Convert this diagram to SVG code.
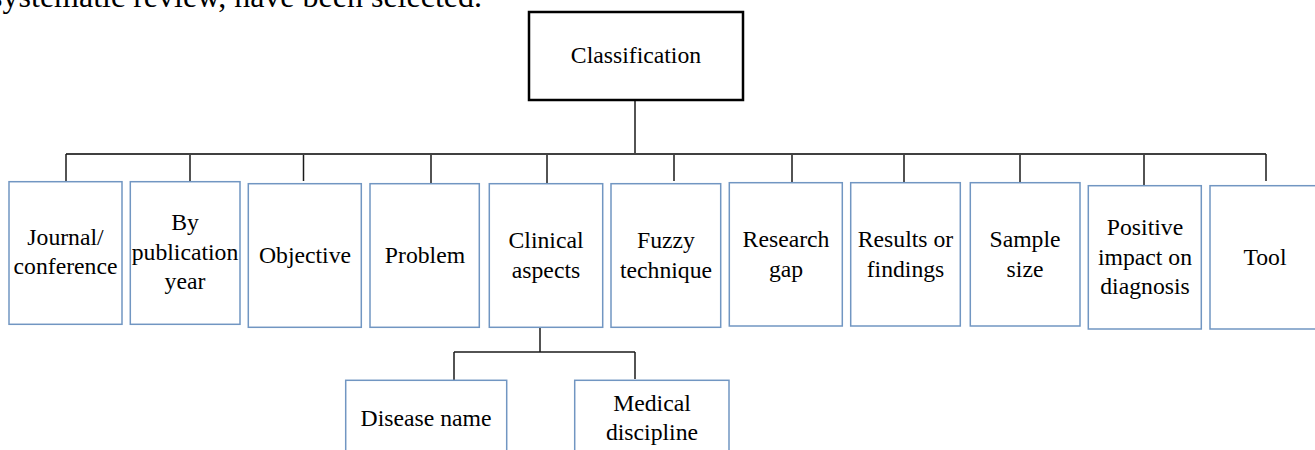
<svg xmlns="http://www.w3.org/2000/svg" width="1315" height="450" viewBox="0 0 1315 450">
<style>
.box{fill:#fff;stroke:#7196C2;stroke-width:1.5}
.root{fill:#fff;stroke:#000;stroke-width:2.5}
.t{font-family:"Liberation Serif","Times New Roman",serif;font-size:23.7px;fill:#000;text-anchor:middle}
.top{font-family:"Liberation Serif","Times New Roman",serif;font-size:32px;fill:#000;text-anchor:end}
.c{stroke:#1a1a1a;stroke-width:1.5;fill:none}
.h{stroke:#404040;stroke-width:2;fill:none}
</style>
<rect width="1315" height="450" fill="#fff"/>
<text class="top" x="482" y="7">systematic review, have been selected.</text>
<g id="connectors">
<line class="c" x1="635" y1="100" x2="635" y2="154"/>
<line class="h" x1="66" y1="154" x2="1266" y2="154"/>
<line class="c" x1="66" y1="154" x2="66" y2="181"/>
<line class="c" x1="190" y1="155" x2="190" y2="183"/>
<line class="c" x1="303.5" y1="155" x2="303.5" y2="181"/>
<line class="c" x1="431" y1="155" x2="431" y2="183"/>
<line class="c" x1="547" y1="155" x2="547" y2="183"/>
<line class="c" x1="674" y1="155" x2="674" y2="181"/>
<line class="c" x1="792" y1="155" x2="792" y2="183"/>
<line class="c" x1="904" y1="155" x2="904" y2="183"/>
<line class="c" x1="1020" y1="155" x2="1020" y2="185"/>
<line class="c" x1="1144" y1="155" x2="1144" y2="185"/>
<line class="c" x1="1266" y1="154" x2="1266" y2="181"/>
<line class="c" x1="540" y1="326" x2="540" y2="352"/>
<line class="c" x1="454" y1="352" x2="635" y2="352"/>
<line class="c" x1="454" y1="352" x2="454" y2="380"/>
<line class="c" x1="635" y1="352" x2="635" y2="379"/>
</g>
<g id="classification">
<rect class="root" x="529" y="12" width="214" height="88"/>
<text class="t" x="636" y="63">Classification</text>
</g>
<g id="journal">
<rect class="box" x="9" y="181.7" width="113" height="142.6"/>
<text class="t" x="65.5" y="244.5">Journal/</text>
<text class="t" x="65.5" y="274">conference</text>
</g>
<g id="year">
<rect class="box" x="130.3" y="181.7" width="109.7" height="142.6"/>
<text class="t" x="185" y="230">By</text>
<text class="t" x="185" y="259.5">publication</text>
<text class="t" x="185" y="289">year</text>
</g>
<g id="objective">
<rect class="box" x="248.3" y="183.7" width="113" height="143.6"/>
<text class="t" x="305" y="263.3">Objective</text>
</g>
<g id="problem">
<rect class="box" x="370" y="183.7" width="109.3" height="143.6"/>
<text class="t" x="425" y="263.3">Problem</text>
</g>
<g id="clinical">
<rect class="box" x="489.3" y="183.7" width="113.4" height="143.6"/>
<text class="t" x="546" y="248.3">Clinical</text>
<text class="t" x="546" y="277.5">aspects</text>
</g>
<g id="fuzzy">
<rect class="box" x="611" y="183.7" width="109.7" height="143.6"/>
<text class="t" x="666" y="248.3">Fuzzy</text>
<text class="t" x="666" y="277.5">technique</text>
</g>
<g id="research">
<rect class="box" x="729.3" y="182.7" width="113" height="143.3"/>
<text class="t" x="786" y="247">Research</text>
<text class="t" x="786" y="276.5">gap</text>
</g>
<g id="results">
<rect class="box" x="850.7" y="182.7" width="109.6" height="143.3"/>
<text class="t" x="905.5" y="247">Results or</text>
<text class="t" x="905.5" y="276.5">findings</text>
</g>
<g id="sample">
<rect class="box" x="970.3" y="182.7" width="109.7" height="143.3"/>
<text class="t" x="1025" y="247">Sample</text>
<text class="t" x="1025" y="276.5">size</text>
</g>
<g id="positive">
<rect class="box" x="1088.3" y="185.7" width="113" height="143.3"/>
<text class="t" x="1145" y="235">Positive</text>
<text class="t" x="1145" y="264.5">impact on</text>
<text class="t" x="1145" y="294">diagnosis</text>
</g>
<g id="tool">
<rect class="box" x="1210" y="185.7" width="113" height="143.3"/>
<text class="t" x="1265" y="264.5">Tool</text>
</g>
<g id="disease">
<rect class="box" x="345.7" y="380.3" width="161" height="90"/>
<text class="t" x="426" y="426">Disease name</text>
</g>
<g id="medical">
<rect class="box" x="574.7" y="380.3" width="154.3" height="90"/>
<text class="t" x="652" y="411">Medical</text>
<text class="t" x="652" y="439.5">discipline</text>
</g>
</svg>
